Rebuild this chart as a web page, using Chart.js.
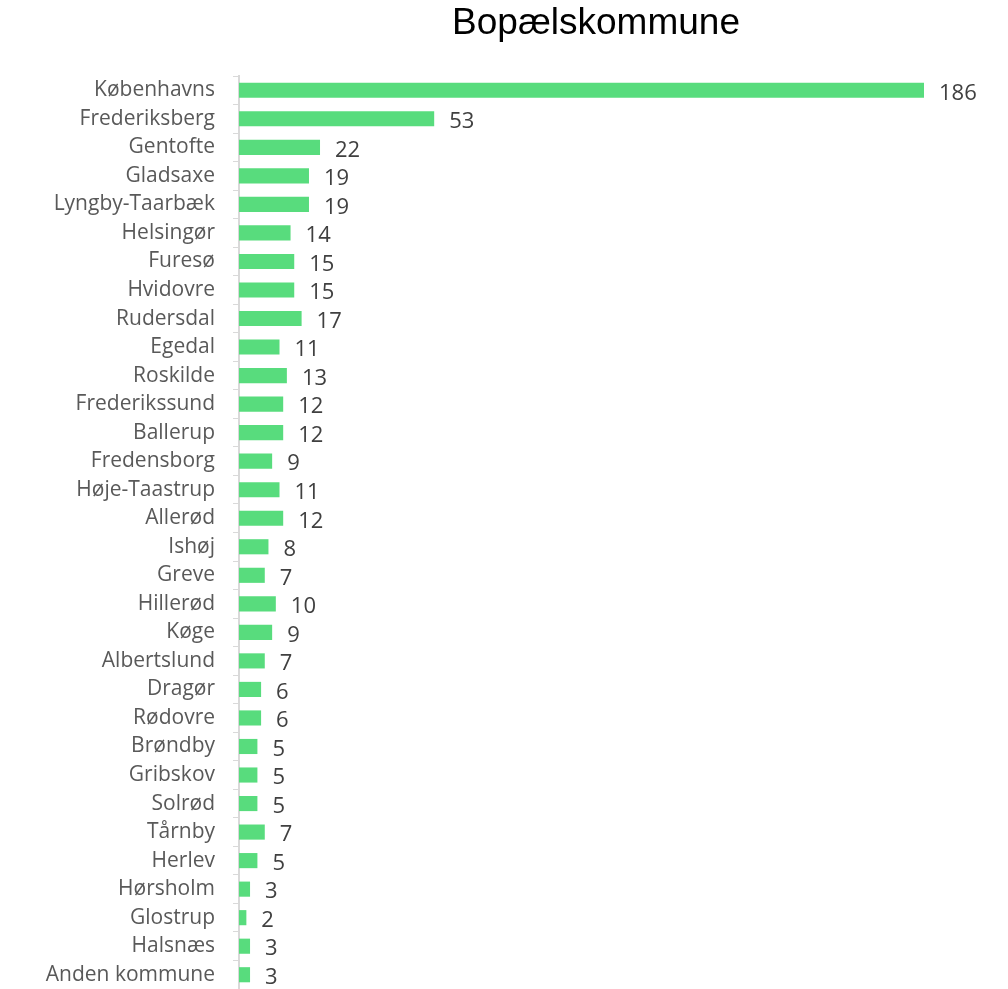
<!DOCTYPE html>
<html>
<head>
<meta charset="utf-8">
<script src="https://cdn.jsdelivr.net/npm/chart.js@4"></script>
<style>
  html, body { margin: 0; padding: 0; background: #fff; }
  #wrap { position: relative; width: 1008px; height: 989px; }
  #title { position: absolute; left: 346px; width: 500px; top: 1px; text-align: center;
           font-family: 'Liberation Sans', Arial, sans-serif; font-size: 37px; color: #000; }
</style>
</head>
<body>
<div id="wrap">
  <div id="title">Bopælskommune</div>
  <canvas id="kommune" width="1008" height="989"></canvas>
</div>
<script>
const kommuner = ['Københavns', 'Frederiksberg', 'Gentofte', 'Gladsaxe', 'Lyngby-Taarbæk', 'Helsingør',
  'Furesø', 'Hvidovre', 'Rudersdal', 'Egedal', 'Roskilde', 'Frederikssund', 'Ballerup', 'Fredensborg',
  'Høje-Taastrup', 'Allerød', 'Ishøj', 'Greve', 'Hillerød', 'Køge', 'Albertslund', 'Dragør', 'Rødovre',
  'Brøndby', 'Gribskov', 'Solrød', 'Tårnby', 'Herlev', 'Hørsholm', 'Glostrup', 'Halsnæs', 'Anden kommune'];
const antal = [186, 53, 22, 19, 19, 14, 15, 15, 17, 11, 13, 12, 12, 9, 11, 12, 8, 7, 10, 9, 7, 6, 6, 5, 5, 5, 7, 5, 3, 2, 3, 3];

const valueLabels = {
  id: 'valueLabels',
  afterDatasetsDraw(chart) {
    const ctx = chart.ctx;
    ctx.save();
    ctx.font = '22px "Open Sans", sans-serif';
    ctx.fillStyle = '#404040';
    ctx.textAlign = 'left';
    ctx.textBaseline = 'middle';
    chart.getDatasetMeta(0).data.forEach((bar, i) => {
      ctx.fillText(antal[i], bar.x + 15, bar.y + 3);
    });
    ctx.restore();
  }
};

new Chart(document.getElementById('kommune'), {
  type: 'bar',
  plugins: [valueLabels],
  data: {
    labels: kommuner,
    datasets: [{
      data: antal,
      backgroundColor: '#58DC7D',
      categoryPercentage: 1,
      barPercentage: 0.53
    }]
  },
  options: {
    indexAxis: 'y',
    responsive: false,
    animation: false,
    layout: { padding: { top: 76, right: 84, bottom: 0, left: 0 } },
    plugins: { legend: { display: false }, tooltip: { enabled: false } },
    scales: {
      x: { display: false, min: 0, max: 186 },
      y: {
        afterFit(scale) {
          scale.width = 239;
          scale.paddingTop = 0;
          scale.paddingBottom = 0;
        },
        grid: { drawOnChartArea: false, tickLength: 6, color: '#d9d9d9' },
        border: { color: '#d9d9d9', width: 2 },
        ticks: {
          padding: 18,
          color: '#595959',
          font: { family: '"Open Sans", sans-serif', size: 21, lineHeight: 1.0 },
          autoSkip: false
        }
      }
    }
  }
});
</script>
</body>
</html>
